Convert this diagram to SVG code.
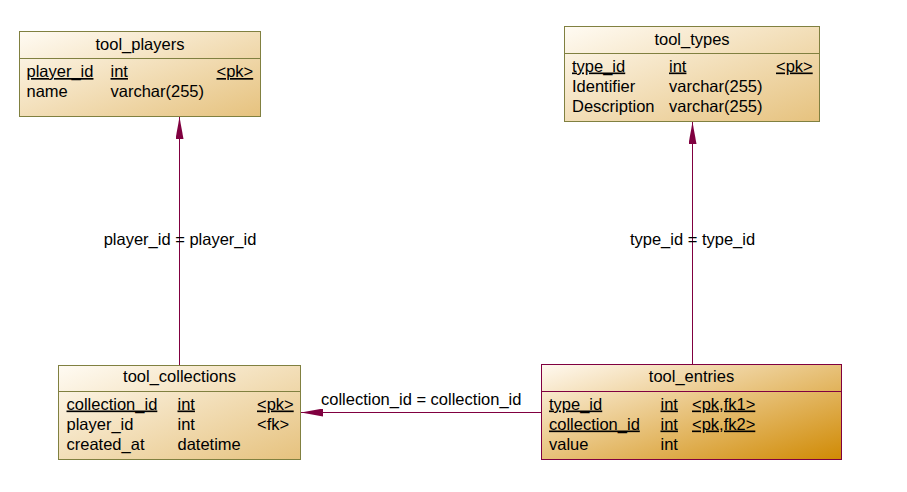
<svg xmlns="http://www.w3.org/2000/svg" width="907" height="492" viewBox="0 0 907 492">
<defs>
<linearGradient id="gBeige" x1="0" y1="0" x2="1" y2="1">
<stop offset="0" stop-color="#FFFBF3"/>
<stop offset="1" stop-color="#E6C27E"/>
</linearGradient>
<linearGradient id="gOrange" x1="0" y1="0" x2="1" y2="1">
<stop offset="0" stop-color="#FFF9F0"/>
<stop offset="1" stop-color="#D08A04"/>
</linearGradient>
<marker id="arr" viewBox="0 0 22 8" refX="22" refY="4" markerWidth="22" markerHeight="8" markerUnits="userSpaceOnUse" orient="auto">
<path d="M0,0 L22,4 L0,8 Z" fill="#800040"/>
</marker>
</defs>
<style>
text{font-family:"Liberation Sans",Arial,sans-serif;font-size:16.5px;fill:#000;}
.t{text-anchor:middle;}
.u{text-decoration:underline;}
.box{fill:url(#gBeige);stroke:#808040;stroke-width:1;}
.boxo{fill:url(#gOrange);stroke:#800040;stroke-width:1;}
.sep{stroke:#808040;stroke-width:1;}
.sepo{stroke:#800040;stroke-width:1;}
.c{stroke:#800040;stroke-width:1;fill:none;}
</style>
<g id="connectors">
<line class="c" x1="179.5" y1="365" x2="179.5" y2="117" marker-end="url(#arr)"/>
<text class="t" x="180" y="245">player_id = player_id</text>
<line class="c" x1="692.5" y1="364" x2="692.5" y2="122" marker-end="url(#arr)"/>
<text class="t" x="692.5" y="245">type_id = type_id</text>
<line class="c" x1="541" y1="412.5" x2="301" y2="412.5" marker-end="url(#arr)"/>
<text x="321" y="404.5">collection_id = collection_id</text>
</g>
<g id="tool_players">
<rect class="box" x="19.5" y="31.5" width="241" height="85"/>
<line class="sep" x1="19.5" y1="58.5" x2="260.5" y2="58.5"/>
<text class="t" x="140" y="50">tool_players</text>
<text class="u" x="26.5" y="77">player_id</text>
<text class="u" x="110.5" y="77">int</text>
<text class="u" x="216.5" y="77">&lt;pk&gt;</text>
<text x="26.5" y="97">name</text>
<text x="110.5" y="97">varchar(255)</text>
</g>
<g id="tool_types">
<rect class="box" x="564.5" y="26.5" width="255" height="95"/>
<line class="sep" x1="564.5" y1="53.5" x2="819.5" y2="53.5"/>
<text class="t" x="692" y="45">tool_types</text>
<text class="u" x="572" y="71.5">type_id</text>
<text class="u" x="669" y="71.5">int</text>
<text class="u" x="776" y="71.5">&lt;pk&gt;</text>
<text x="572" y="91.5">Identifier</text>
<text x="669" y="91.5">varchar(255)</text>
<text x="572" y="111.5">Description</text>
<text x="669" y="111.5">varchar(255)</text>
</g>
<g id="tool_collections">
<rect class="box" x="58.5" y="365.5" width="242" height="94"/>
<line class="sep" x1="58.5" y1="391.5" x2="300.5" y2="391.5"/>
<text class="t" x="179.5" y="382">tool_collections</text>
<text class="u" x="66.5" y="409.5">collection_id</text>
<text class="u" x="177.5" y="409.5">int</text>
<text class="u" x="257" y="409.5">&lt;pk&gt;</text>
<text x="66.5" y="429.5">player_id</text>
<text x="177.5" y="429.5">int</text>
<text x="257" y="429.5">&lt;fk&gt;</text>
<text x="66.5" y="449.5">created_at</text>
<text x="177.5" y="449.5">datetime</text>
</g>
<g id="tool_entries">
<rect class="boxo" x="541.5" y="364.5" width="300" height="95"/>
<line class="sepo" x1="541.5" y1="391.5" x2="841.5" y2="391.5"/>
<text class="t" x="691.5" y="382">tool_entries</text>
<text class="u" x="549" y="409.5">type_id</text>
<text class="u" x="660.5" y="409.5">int</text>
<text class="u" x="692" y="409.5">&lt;pk,fk1&gt;</text>
<text class="u" x="549" y="429.5">collection_id</text>
<text class="u" x="660.5" y="429.5">int</text>
<text class="u" x="692" y="429.5">&lt;pk,fk2&gt;</text>
<text x="549" y="449.5">value</text>
<text x="660.5" y="449.5">int</text>
</g>
</svg>
